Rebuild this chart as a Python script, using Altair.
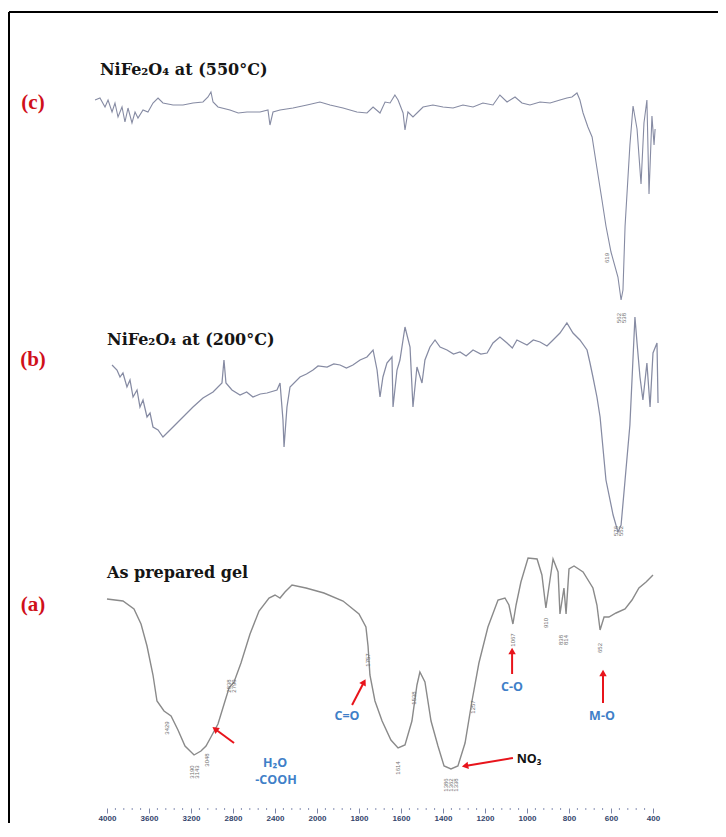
import altair as alt
import pandas as pd

# ---------------- data ----------------
# wavenumber (cm-1) and offset transmittance (arbitrary units) per spectrum
wn_a = [4000, 3848, 3743, 3676, 3619, 3562, 3524, 3457, 3390, 3324, 3257, 3171, 3105, 3057, 3010,
        2943, 2876, 2838, 2790, 2724, 2638, 2552, 2457, 2400, 2352, 2305, 2238, 2105, 1967, 1876,
        1800, 1767, 1757, 1748, 1724, 1690, 1648, 1614, 1581, 1548, 1524, 1510, 1486, 1457, 1424,
        1395, 1362, 1329, 1295, 1262, 1229, 1186, 1138, 1105, 1086, 1067, 1052, 1029, 995, 952,
        929, 910, 890, 876, 852, 843, 824, 814, 800, 776, 733, 686, 667, 652, 633, 610, 576, 533,
        500, 467, 433, 400]
t_a = [227, 225, 217, 202, 180, 151, 125, 115, 110, 96, 80, 71, 75, 80, 89,
       102, 125, 138, 144, 163, 192, 215, 228, 231, 228, 234, 241, 238, 233, 225,
       212, 199, 180, 151, 125, 105, 86, 78, 81, 105, 141, 154, 144, 105, 80,
       60, 57, 60, 83, 125, 163, 199, 226, 228, 221, 202, 221, 244, 268, 267,
       251, 218, 247, 267, 254, 212, 238, 212, 257, 260, 254, 238, 221, 196, 209, 209, 213, 217,
       226, 238, 244, 251]

wn_b = [3952, 3905, 3876, 3848, 3810, 3781, 3752, 3714, 3686, 3657, 3619, 3590, 3562, 3514, 3467,
        3419, 3371, 3276, 3181, 3086, 2990, 2905, 2886, 2867, 2810, 2733, 2670, 2610, 2540, 2476,
        2381, 2352, 2324, 2314, 2286, 2257, 2162, 2100, 2038, 1995, 1952, 1920, 1890, 1860, 1829,
        1795, 1762, 1733, 1714, 1700, 1686, 1667, 1643, 1638, 1619, 1605, 1581, 1557, 1543, 1524,
        1500, 1486, 1462, 1438, 1414, 1381, 1350, 1319, 1290, 1257, 1220, 1190, 1162, 1129, 1095,
        1070, 1048, 1000, 970, 938, 905, 876, 843, 810, 781, 748, 714, 700, 686, 667, 652,
        624, 590, 567, 552, 533, 510, 486, 476, 462, 448, 429, 414, 400, 381, 376]
t_b = [461, 456, 449, 453, 439, 446, 429, 436, 419, 426, 409, 413, 399, 396, 389,
       394, 399, 409, 419, 428, 434, 443, 466, 443, 436, 431, 434, 429, 432, 433,
       436, 443, 406, 379, 419, 439, 449, 452, 456, 460, 459, 462, 461, 458, 461,
       466, 469, 476, 456, 429, 449, 463, 469, 419, 456, 466, 499, 479, 419, 459,
       443, 466, 479, 486, 479, 476, 472, 474, 470, 476, 472, 473, 483, 489, 483,
       478, 486, 481, 486, 484, 480, 486, 493, 503, 493, 486, 476, 463, 449, 429, 409,
       346, 311, 294, 301, 346, 401, 509, 483, 449, 426, 463, 419, 473, 483, 423]

wn_c = [4114, 4067, 4019, 3990, 3952, 3924, 3895, 3857, 3829, 3800, 3762, 3733, 3705, 3657, 3610,
        3562, 3514, 3467, 3371, 3276, 3181, 3086, 3038, 3010, 2990, 2943, 2829, 2750, 2667, 2543,
        2467, 2448, 2419, 2352, 2229, 2095, 1986, 1938, 1876, 1810, 1762, 1733, 1700, 1676, 1652,
        1629, 1614, 1590, 1581, 1567, 1543, 1519, 1495, 1448, 1400, 1352, 1305, 1257, 1210, 1162,
        1129, 1095, 1057, 1024, 986, 938, 890, 843, 810, 786, 762, 748, 733, 710, 690, 667,
        643, 624, 600, 567, 552, 543, 533, 510, 495, 476, 457, 443, 429, 419, 405, 395, 390]
t_c = [726, 728, 719, 726, 714, 723, 709, 719, 704, 718, 703, 714, 708, 716, 714,
       723, 728, 723, 721, 721, 723, 724, 729, 734, 724, 719, 716, 713, 714, 714,
       716, 701, 714, 716, 718, 721, 724, 721, 718, 714, 713, 719, 713, 724, 723,
       731, 726, 713, 696, 714, 709, 714, 719, 721, 719, 718, 721, 719, 723, 721,
       731, 724, 729, 723, 721, 724, 723, 726, 728, 729, 733, 726, 713, 699, 689, 658,
       626, 600, 574, 549, 526, 536, 600, 681, 720, 697, 642, 703, 726, 632, 710, 681, 697]

series_names = ["(a) As prepared gel", "(b) 200 °C", "(c) 550 °C"]
series_colors = ["#8a8a8a", "#868ba3", "#868ba3"]
series_widths = [1.4, 1.1, 1.1]

xtick_values = [4000, 3600, 3200, 2800, 2400, 2000, 1800, 1600, 1400, 1200, 1000, 800, 600, 400]

# panel tags and titles
tag_text = ["(c)", "(b)", "(a)"]
tag_wn = [4705, 4705, 4705]
tag_t = [723, 466, 221]

title_text = ["NiFe₂O₄ at (550°C)", "NiFe₂O₄ at (200°C)", "As prepared gel"]
title_wn = [4067, 4000, 4000]
title_t = [756, 486, 253]

# band assignments
band_text = ["C=O", "C-O", "M-O", "H₂O", "-COOH", "NO₃"]
band_wn = [1857, 1071, 643, 2400, 2390, 990]
band_t = [110, 139, 110, 63, 46, 67]
band_color = ["#3f7fc8", "#3f7fc8", "#3f7fc8", "#3f7fc8", "#3f7fc8", "#111111"]

# red arrows: start -> tip
arrow_wn0 = [2790, 1833, 1067, 1071, 638]
arrow_t0 = [83, 121, 68, 152, 123]
arrow_wn1 = [2971, 1776, 1295, 1071, 638]
arrow_t1 = [97, 144, 60, 175, 153]
arrow_angle = [306, 28, 260, 0, 0]

# small peak-position labels
peak_wn = [3429, 3190, 3143, 3048, 2838, 2790, 1757, 1614, 1538, 1386, 1362, 1338, 1257,
           1067, 910, 838, 814, 652, 576, 552, 619, 562, 538]
peak_t = [98, 54, 54, 66, 140, 140, 166, 58, 128, 41, 41, 41, 119,
          186, 203, 186, 186, 178, 295, 295, 568, 508, 508]

# ---------------- frames ----------------
rows = []
for name, wl, tl in zip(series_names, [wn_a, wn_b, wn_c], [t_a, t_b, t_c]):
    for i, (w, t) in enumerate(zip(wl, tl)):
        rows.append({"series": name, "wn": w, "t": t, "idx": i})
spectra = pd.DataFrame(rows)

tags = pd.DataFrame({"text": tag_text, "wn": tag_wn, "t": tag_t})
titles = pd.DataFrame({"text": title_text, "wn": title_wn, "t": title_t})
bands = pd.DataFrame({"text": band_text, "wn": band_wn, "t": band_t, "c": band_color})
arrows = pd.DataFrame({"wn0": arrow_wn0, "t0": arrow_t0, "wn1": arrow_wn1, "t1": arrow_t1,
                       "ang": arrow_angle})
peaks = pd.DataFrame({"wn": peak_wn, "t": peak_t, "text": [str(v) for v in peak_wn]})
minor_vals = []
for a, b in zip(xtick_values[:-1], xtick_values[1:]):
    for k in range(1, 5):
        minor_vals.append(a + (b - a) * k / 5)
minor = pd.DataFrame({"wn": minor_vals})

W, H = 700, 796
xscale = alt.Scale(domain=[4400, 2000, 400], range=[56, 308, 644], nice=False, zero=False)
yscale = alt.Scale(domain=[18, 814], nice=False, zero=False)

X = alt.X("wn:Q", scale=xscale,
          axis=alt.Axis(values=xtick_values, format="d", domain=False, grid=False, tickSize=5,
                        tickColor="#7d86a8", tickWidth=1, labelFontSize=8, labelColor="#34456b",
                        labelPadding=1, labelFlush=False, labelOverlap=False, title=None,
                        labelFont="Liberation Sans", labelFontWeight="bold"))
Y = alt.Y("t:Q", scale=yscale, axis=None)

lines = alt.Chart(spectra).mark_line(interpolate="linear").encode(
    x=X, y=Y,
    color=alt.Color("series:N", scale=alt.Scale(domain=series_names, range=series_colors), legend=None),
    strokeWidth=alt.StrokeWidth("series:N", scale=alt.Scale(domain=series_names, range=series_widths),
                                legend=None),
    order="idx:Q",
)

minor_ticks = alt.Chart(minor).mark_rule(color="#8a93b5", strokeWidth=1).encode(
    x=alt.X("wn:Q", scale=xscale), y=alt.value(H), y2=alt.value(H + 2))

frame_left = alt.Chart(tags).mark_rule(color="black", strokeWidth=2).encode(
    x=alt.value(0), y=alt.value(0), y2=alt.value(H + 40))
frame_top = alt.Chart(tags).mark_rule(color="black", strokeWidth=2).encode(
    x=alt.value(0), x2=alt.value(W + 20), y=alt.value(0))

tag_layer = alt.Chart(tags).mark_text(font="Liberation Serif", fontWeight="bold", fontSize=21,
                                      color="#d0101a", align="center", baseline="middle").encode(
    x=alt.X("wn:Q", scale=xscale), y=alt.Y("t:Q", scale=yscale), text="text:N")

title_layer = alt.Chart(titles).mark_text(font="DejaVu Serif", fontWeight="bold", fontSize=16,
                                          color="#151515", align="left", baseline="middle").encode(
    x=alt.X("wn:Q", scale=xscale), y=alt.Y("t:Q", scale=yscale), text="text:N")

band_layer = alt.Chart(bands).mark_text(font="Open Sans", fontWeight="bold", fontSize=12.5,
                                        align="center", baseline="middle").encode(
    x=alt.X("wn:Q", scale=xscale), y=alt.Y("t:Q", scale=yscale), text="text:N",
    color=alt.Color("c:N", scale=None))

arrow_lines = alt.Chart(arrows).mark_rule(color="#e8141b", strokeWidth=2).encode(
    x=alt.X("wn0:Q", scale=xscale), x2="wn1:Q",
    y=alt.Y("t0:Q", scale=yscale), y2="t1:Q")
arrow_heads = alt.Chart(arrows).mark_point(shape="triangle-up", filled=True, size=55,
                                           color="#e8141b", opacity=1).encode(
    x=alt.X("wn1:Q", scale=xscale), y=alt.Y("t1:Q", scale=yscale),
    angle=alt.Angle("ang:Q", scale=None))

peak_layer = alt.Chart(peaks).mark_text(font="Liberation Sans", fontSize=6, angle=270,
                                        color="#6f6f6f", align="center", baseline="middle").encode(
    x=alt.X("wn:Q", scale=xscale), y=alt.Y("t:Q", scale=yscale), text="text:N")

chart = alt.layer(
    frame_left, frame_top, minor_ticks, lines, peak_layer, arrow_lines, arrow_heads,
    tag_layer, title_layer, band_layer,
).properties(
    width=W, height=H, autosize="none", background="white",
    padding={"left": 1, "top": 4, "right": 9, "bottom": 15},
).configure_view(strokeWidth=0, stroke="white")

chart.save("out.html", embed_options={"renderer": "svg", "actions": False})
